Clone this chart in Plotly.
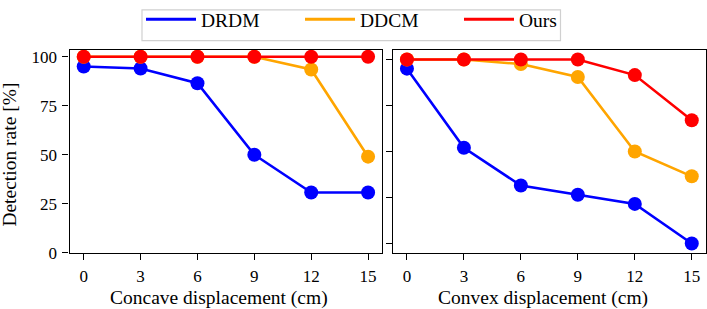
import plotly.graph_objects as go

x_vals = [0, 3, 6, 9, 12, 15]
series_names = ["DRDM", "DDCM", "Ours"]
colors = ["#0000ff", "#ffa500", "#ff0000"]

concave_drdm = [95, 94, 86.5, 50, 30.7, 30.7]
concave_ddcm = [100, 100, 100, 100, 93.5, 49]
concave_ours = [100, 100, 100, 100, 100, 100]

convex_drdm = [95, 52, 31.5, 26.5, 21.5, 0]
convex_ddcm = [100, 100, 97.5, 90.5, 50, 36.5]
convex_ours = [100, 100, 100, 100, 91.5, 67]

y_ticks = [0, 25, 50, 75, 100]
x_ticks = [0, 3, 6, 9, 12, 15]

x_titles = ["Concave displacement (cm)", "Convex displacement (cm)"]
y_title = "Detection rate [%]"

W, H = 707, 309
FONT = "Liberation Serif, Times New Roman, Times, serif"

fig = go.Figure()

panels = [
    ([concave_drdm, concave_ddcm, concave_ours], "x", "y"),
    ([convex_drdm, convex_ddcm, convex_ours], "x2", "y2"),
]
for data, xa, ya in panels:
    for name, vals, c in zip(series_names, data, colors):
        fig.add_trace(go.Scatter(
            x=x_vals, y=vals, xaxis=xa, yaxis=ya, mode="lines+markers",
            line=dict(color=c, width=2.6), marker=dict(color=c, size=14),
            showlegend=False, cliponaxis=False, hoverinfo="skip",
        ))

for name, c in zip(series_names, colors):
    fig.add_trace(go.Scatter(x=[None], y=[None], mode="lines", name=name,
                             line=dict(color=c, width=3), showlegend=True))


def px_x(a, b):
    return [a / W, b / W]


def px_y(top, bottom):
    return [1 - bottom / H, 1 - top / H]


axis_common = dict(showline=True, linecolor="black", linewidth=1.3, mirror=True,
                   ticks="outside", ticklen=6, tickwidth=1.2, tickcolor="black",
                   ticklabelstandoff=2,
                   showgrid=False, zeroline=False, automargin=False,
                   tickfont=dict(family=FONT, size=17, color="black"))

TOP, BOT = 42.5, 251

fig.update_layout(
    width=W, height=H,
    margin=dict(l=0, r=0, t=0, b=0),
    paper_bgcolor="white", plot_bgcolor="white",
    font=dict(family=FONT, color="black"),
    xaxis=dict(domain=px_x(69.5, 382.3), range=[-0.75, 15.75], tickvals=x_ticks,
               anchor="y", **axis_common),
    yaxis=dict(domain=px_y(TOP, BOT), range=[0, 103.3], tickvals=y_ticks,
               anchor="x", **axis_common),
    xaxis2=dict(domain=px_x(392.7, 706), range=[-0.75, 15.75], tickvals=x_ticks,
                anchor="y2", **axis_common),
    yaxis2=dict(domain=px_y(TOP, BOT), range=[-5, 105], tickvals=y_ticks,
                showticklabels=False, anchor="x2", **axis_common),
    legend=dict(orientation="h", x=141 / W, xanchor="left", y=1 - 11 / H, yanchor="middle",
                borderwidth=0, bgcolor="rgba(0,0,0,0)",
                font=dict(family=FONT, size=19.5, color="black"),
                entrywidth=94, itemwidth=50),
)

# legend frame
x0, x1, y0, y1 = 142, 560.5, 1, 32.5
fig.add_shape(type="rect", xref="paper", yref="paper",
              x0=x0 / W, x1=x1 / W, y0=1 - y1 / H, y1=1 - y0 / H,
              line=dict(color="#d0d0d0", width=1.2), fillcolor="white", layer="below")

annots = [
    dict(text=x_titles[0], x=219.4 / W, y=1 - 297.5 / H),
    dict(text=x_titles[1], x=542.8 / W, y=1 - 297.5 / H),
    dict(text=y_title, x=9.5 / W, y=1 - 150.5 / H, textangle=-90),
]
for a in annots:
    fig.add_annotation(xref="paper", yref="paper", showarrow=False,
                       xanchor="center", yanchor="middle",
                       font=dict(family=FONT, size=19.5, color="black"), **a)

fig.write_html("out.html", config={"displayModeBar": False},
               post_script="document.body.style.margin='0';")
